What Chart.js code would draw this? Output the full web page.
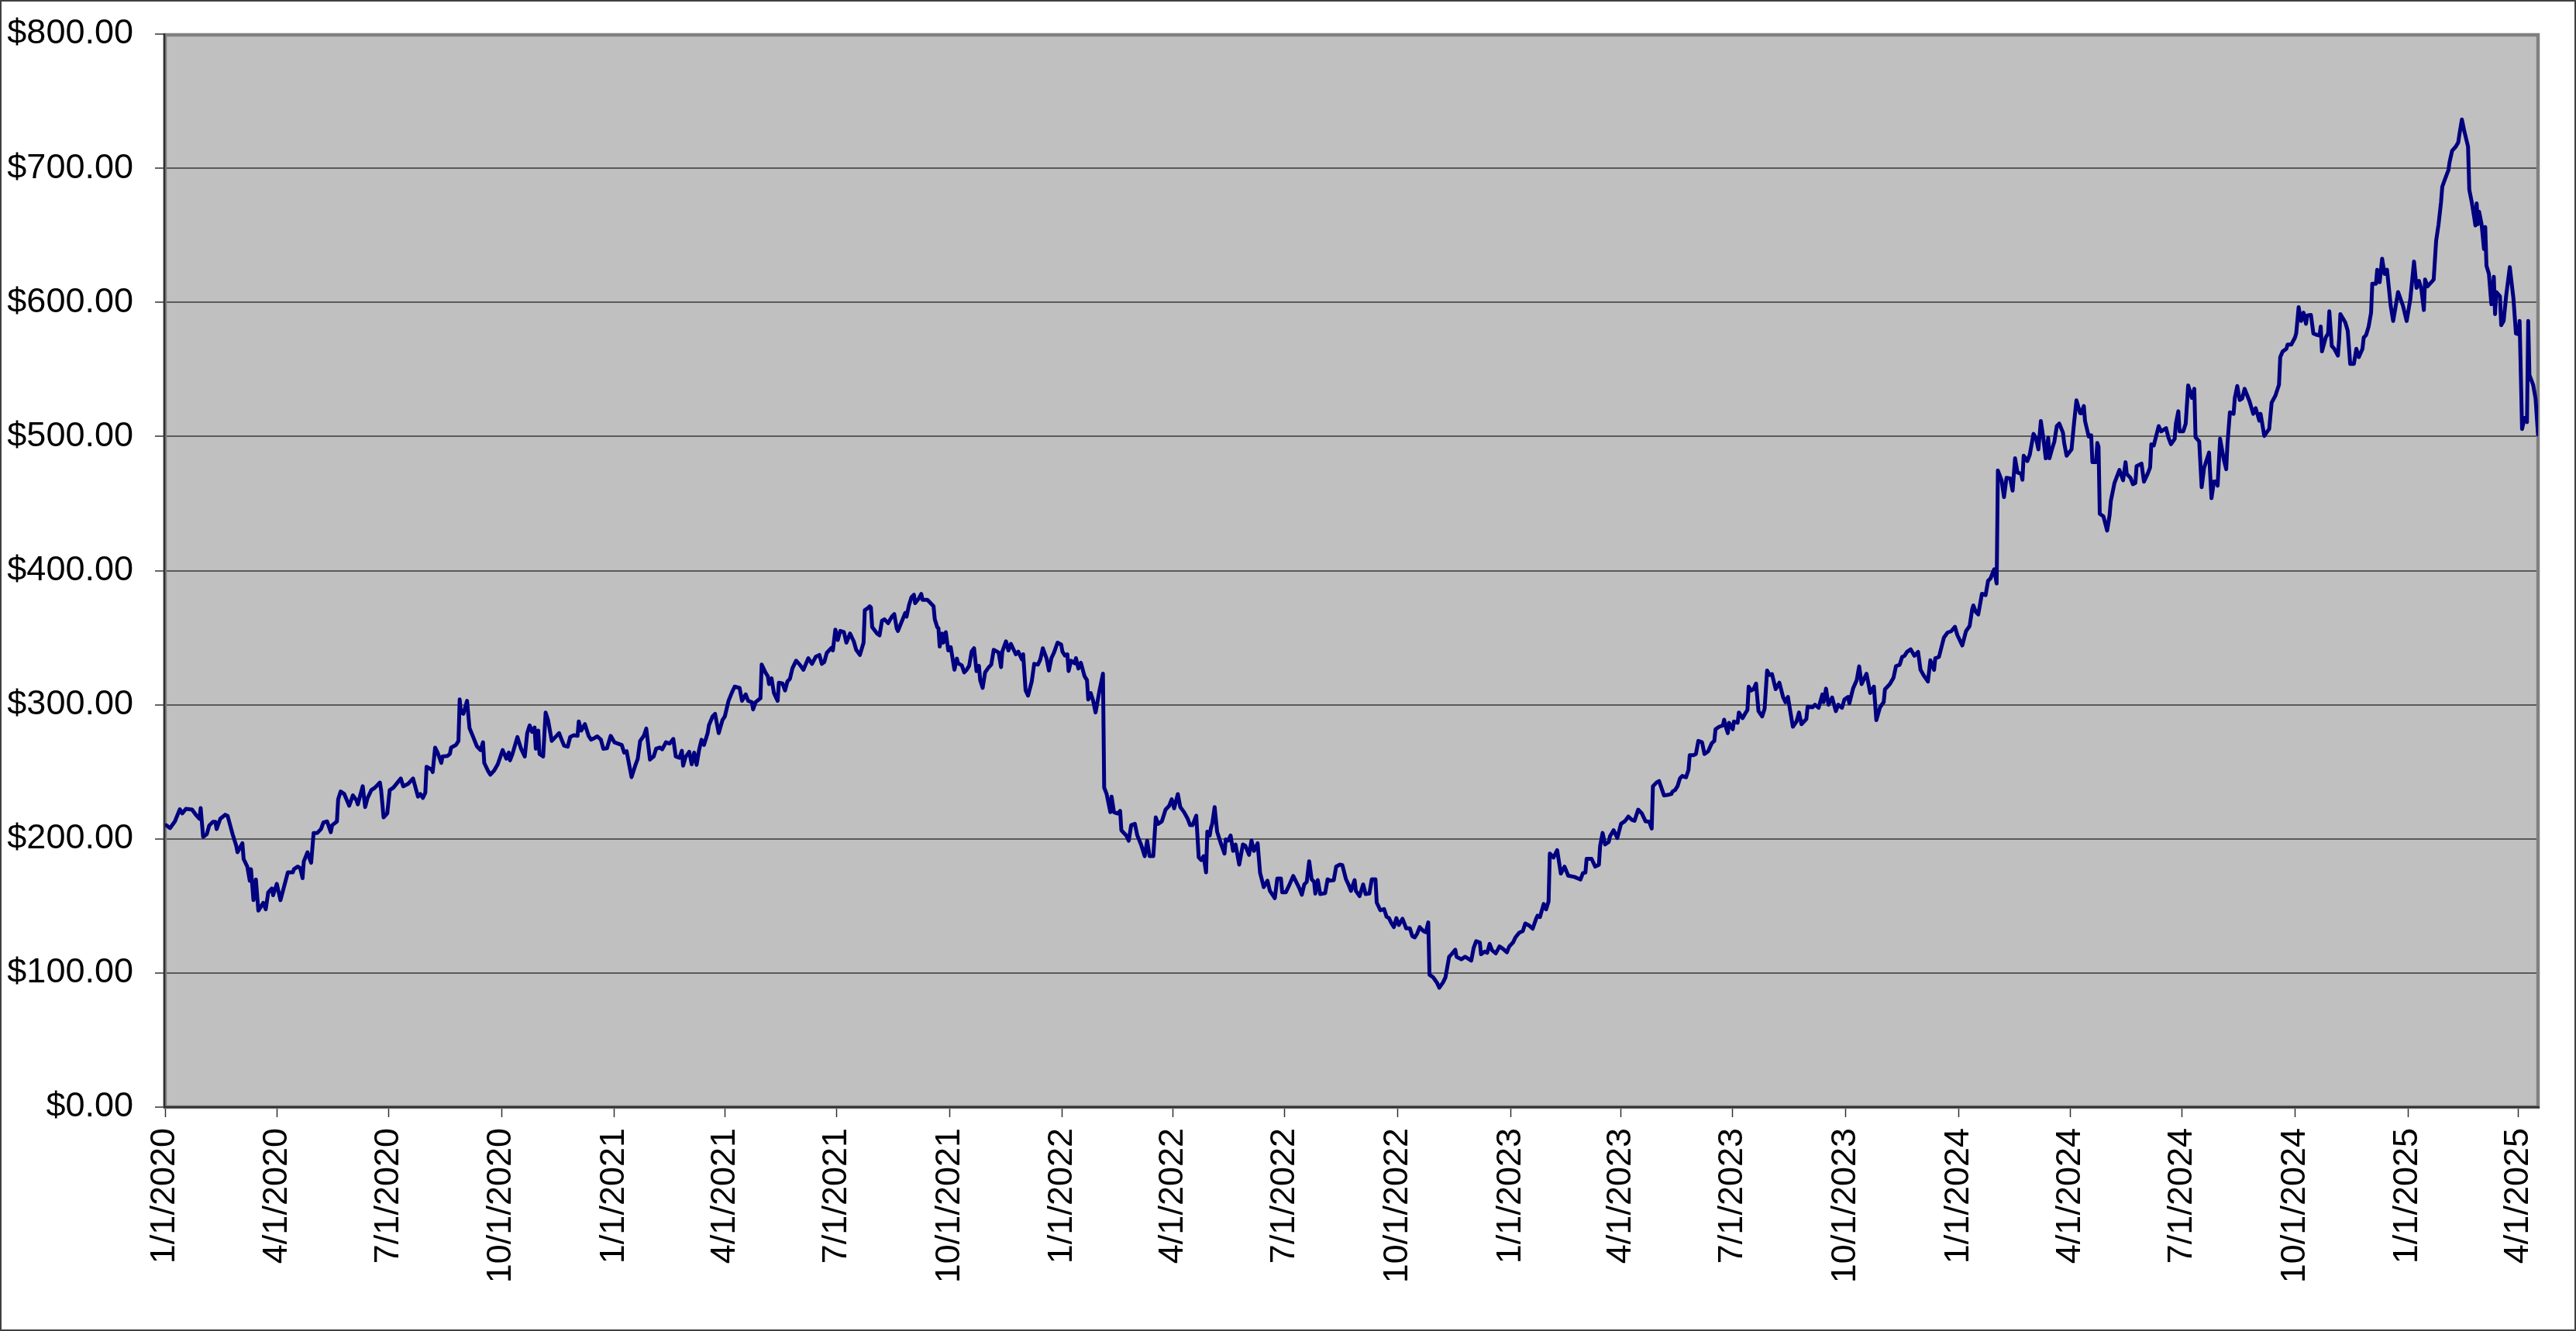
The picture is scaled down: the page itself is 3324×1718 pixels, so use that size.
<!DOCTYPE html>
<html>
<head>
<meta charset="utf-8">
<script src="https://cdn.jsdelivr.net/npm/chart.js@4/dist/chart.umd.min.js"></script>
<style>
  html, body { margin: 0; padding: 0; background: #ffffff; }
  canvas { display: block; }
</style>
</head>
<body>
<canvas id="chart" width="3324" height="1718"></canvas>
<script>
// ---------------- DATA ----------------
// X-axis tick labels (quarter starts)
const quarterLabels = ['1/1/2020','4/1/2020','7/1/2020','10/1/2020','1/1/2021','4/1/2021','7/1/2021','10/1/2021',
  '1/1/2022','4/1/2022','7/1/2022','10/1/2022','1/1/2023','4/1/2023','7/1/2023','10/1/2023',
  '1/1/2024','4/1/2024','7/1/2024','10/1/2024','1/1/2025','4/1/2025'];

// Y-axis range
const yMin = 0, yMax = 800, yStep = 100;

// Closing prices, per year: day-of-year (0 = Jan 1) and price in dollars
const days2020 = [1,4,8,12,14,17,22,25,28,29,31,34,36,39,41,42,45,49,51,55,58,59,63,64,67,69,70,72,74,76,80,82,84,87,88,91,94,100,104,105,108,110,112,113,116,117,119,121,124,127,129,132,135,136,140,141,143,146,150,153,156,157,161,163,165,168,171,175,176,178,181,183,186,192,194,198,202,206,208,210,212,213,217,218,220,222,225,226,230,232,233,237,239,240,241,243,246,248,251,254,257,259,260,263,265,268,271,275,278,280,281,283,287,290,293,295,297,299,301,302,304,305,308,310,312,315,318,321,323,325,328,330,333,336,337,339,342,345,347,350,352,355,357,360,363];
const close2020 = [210.2,208,213,222,219,222.4,221.8,218,215,223,201.5,203.5,210,212.7,212.7,207.3,215,218,217,203.5,194.8,190,196.7,185,179.3,168.7,177.4,154.3,169.7,146.5,152.3,147.5,160,163,158,166.4,154.3,175,175,177.4,179.3,178.4,170.7,183.2,190,187,182.2,204.4,204.4,207.3,212.2,213,205,210,213,229.5,235.3,233.4,224.7,232.4,228.6,225.7,239.2,223.7,230.5,236.3,238.2,242,236.3,216,219,236.3,238.2,245,239.2,241,245,231.5,233.4,230.5,234.4,253.7,251.7,249.8,268,264.3,256.6,261.4,261.8,263.3,268,270,273,303.9,294.2,293.2,302.9,282.6,275.9,269,266.2,272,256.6,250.8,247.9,250.8,255.6,266.2,259.8,264.3,258.5,263.3,275.9,267.2,261.4,278.8,284.6,279.7,283,267.2,280.7,263.3,261.4,294.2,288.4,273,275.9,278.8,274,269.5,268.7,275.9,277.2,276.8,287.5,280.7,285.5,276.8,274,275.3,276.4,274,267.2,267.6,276.8];

const days2021 = [0,3,6,8,10,12,14,17,19,21,24,26,29,32,34,37,39,42,45,48,50,53,55,56,58,61,63,65,67,69,71,73,76,77,80,82,85,88,90,93,96,98,102,104,107,109,112,113,115,119,120,123,125,126,128,130,133,134,137,139,141,143,145,148,151,154,158,161,164,167,169,171,173,177,178,180,182,184,187,189,192,195,197,200,203,204,207,208,209,210,214,216,218,220,223,226,228,230,231,234,237,238,240,242,244,245,248,250,251,255,257,260,261,263,264,265,267,268,270,272,274,277,279,280,283,285,287,289,291,293,295,297,298,300,302,305,307,309,313,315,316,319,321,323,325,327,329,332,333,335,337,340,342,345,347,349,352,354,356,358,361,364];
const close2021 = [272,271,270,264.3,265.3,255.6,246,254.6,259.5,273,276.8,282.2,259.1,261.4,267.2,268.1,266.8,272,271,274.5,261.4,260.4,265.6,254.6,261,264.9,255.6,264.3,255.2,266.2,273.9,270,278.8,284.6,291.3,293.2,278.8,288.4,291.3,302.9,309.7,313.5,312.5,302.9,307.7,302.9,301.9,296.5,301.9,304.8,329.9,324.1,321.2,315.4,319.7,308.7,302.9,316.4,315.8,310.6,317.4,319.3,327,332.8,329.9,326.1,334.7,330.5,335.7,337.1,330.5,331.9,338.6,342.5,340.5,356,348.3,355,354.1,346.3,353.1,347.3,340.9,337.1,346.3,370.5,372.4,373.4,372.4,357.9,353.1,351.7,362.7,363.7,360.8,365.6,367.6,356.9,355,361.8,368.5,365.6,374.3,380.1,382,375.7,379.2,382.6,378.2,378.2,376.3,373.4,363.7,357.9,357,343.4,353.1,346.3,354.1,340.5,342.9,326.1,334.4,330.9,329.3,324.1,326.1,329,339.6,342.1,325.1,329,318.3,312.5,324.1,328,329.9,340.9,339,328,339.6,347.3,340.5,345.4,341.5,337.6,339.6,333.8,337.6,310.6,306.8,317.4,330.5,329.9,333.8,342.1,334.7,325.5,334.7,338.6,346.3,344.8];

const days2022 = [0,2,4,5,7,10,11,13,15,18,20,21,23,25,27,30,33,34,36,39,40,42,45,47,48,52,54,56,59,61,64,67,69,71,74,76,78,81,84,87,89,91,94,96,99,102,104,106,109,111,113,115,117,118,120,121,122,124,126,129,132,133,135,137,139,141,144,147,149,152,154,156,159,161,164,167,169,173,175,178,179,182,185,188,191,193,195,197,199,201,203,205,206,208,210,214,216,218,221,223,226,228,231,233,235,238,239,242,245,247,250,252,255,256,259,262,264,266,268,270,272,274,277,280,283,285,287,289,291,294,296,298,299,302,305,307,310,312,315,317,320,321,325,328,333,335,337,340,341,344,346,348,350,353,356,359,362,364];
const close2022 = [339.6,336.7,337.6,325.1,332.8,330.9,334.7,327,331.3,321.2,318.3,303.9,308.7,302.9,294.2,309.7,323.2,238.2,233.4,219.9,231.5,219.9,218.9,220.8,206.4,202.5,198.6,210.2,211.2,202.5,195.8,187.1,198.6,187.1,187.1,216,211.2,213.1,221.8,224.7,229.5,222.8,233.4,223.7,220,215,210.2,210.2,217.3,186.2,184.2,187.1,175,205.4,202.5,208.3,211.2,223.7,205.4,196.7,189,199.6,198.7,202.5,191,195.8,180.8,195.8,194.8,188.1,198.7,191,196.7,174.6,164,168.8,161.2,155.8,170.4,170.4,160.2,160.2,166,172.3,166.9,163.1,158.3,166,167.9,183.3,169.8,167.9,159.2,169.2,158.8,159.6,169.8,168.8,169.2,179.4,180.8,180.4,169.8,166,161.2,169.2,161.2,157.3,166,158.8,159.2,169.8,169.8,152.5,146.7,147.7,141.9,140.9,137.1,134.2,140.9,135.8,140.4,133.3,133.3,127.5,126.5,129.4,134.2,131.3,130.4,137.7,98.7,96.7,92.9,89,92.9,96.7,112.1,114,117.3,112.1,110.2,112.1,109.2,118.8,123.7,122.7,114,116,115,121.7,116.9,114.6,119.8,117.9,115.4,119.8];

const days2023 = [2,4,7,10,12,15,18,21,22,24,27,29,31,32,35,38,41,44,47,52,57,59,61,62,66,69,72,73,75,77,80,81,84,87,90,93,94,96,99,101,104,107,110,113,115,116,119,121,125,128,131,132,134,136,138,140,143,145,146,149,151,153,156,158,161,164,166,167,170,173,174,176,177,178,181,182,185,186,189,191,193,194,196,198,200,202,205,207,209,211,213,216,219,222,224,226,227,230,233,235,237,241,242,246,248,251,254,255,257,259,262,265,267,270,272,275,276,279,282,284,286,290,293,296,298,301,304,305,309,312,314,317,319,321,323,326,329,332,334,337,340,342,345,346,349,353,356,359,362,364];
const close2023 = [122.7,126.5,130,131.3,136.9,135.5,133,140.7,142.7,141.7,151.4,147.5,153.3,189,186.1,191.5,174.1,179.3,172.6,171.6,169.7,174.5,174.9,185.1,185.1,179.3,180.7,194.8,204.4,195.8,197.7,201.9,206.4,200.6,211.2,213.1,214.1,216.6,214.1,213.5,221.8,218.9,213.1,212.7,207.7,239.2,242.1,243.1,232.4,232.8,233.4,235.3,236.3,239.2,245,246.9,245.9,251.4,262.4,262.4,263.3,273,272,263.3,265.3,271.4,273,281.7,283.6,284.6,288.8,281.7,278.8,286.5,281.7,287.5,286.5,294.2,290,293.2,296.1,313.5,310.6,311.6,315.8,295.2,291.3,297.1,325.5,322.2,322.8,311.6,316.4,305.8,301.9,305.8,300,283.6,287.5,294.2,285.5,289.4,298.5,298.1,300,297.7,307.7,301.9,312,300,305.4,295.2,300,297.7,303.9,305.8,301,312,318.3,328.6,315.4,323.1,308.7,313.5,288.5,298.1,301.9,311.5,315.4,320.2,328.8,329.8,335.6,336.5,339.4,341.3,336.5,339.4,326,321.2,317.3,333.1,326,334.6,335.6,350,353.8,354.8,358.1,351.9];

const days2024 = [3,6,9,11,12,14,16,19,22,24,26,29,31,32,35,37,39,42,44,46,48,51,52,53,56,58,61,63,65,67,69,71,73,74,76,78,80,82,85,86,88,92,94,96,99,100,102,103,106,108,109,112,113,114,115,118,121,123,124,127,131,134,136,137,140,142,144,145,149,151,154,156,157,159,163,165,169,171,173,176,177,179,180,183,185,187,190,192,193,196,198,200,204,206,208,210,211,213,216,218,219,221,224,225,227,229,231,233,237,240,242,245,246,249,253,255,258,261,262,264,267,268,271,274,275,277,279,281,283,284,287,289,292,294,295,296,299,301,302,304,306,309,310,311,313,315,317,319,322,324,326,329,330,332,334,336,337,340,341,343,345,347,349,352,354,358,362,365];
const close2024 = [344.2,354.8,358.7,370.8,374,369.2,367.3,382.7,381.7,392.3,394.2,401,390.4,474.6,467.3,454.8,469.2,468.8,459.6,483.7,473.1,472.1,467.7,485.6,481.7,486.5,501.9,499,490.4,511.5,499,483.7,499,483.7,490.4,496.2,507.7,509.6,502.9,495.2,485.6,490.4,509.6,526.9,517.3,517.3,522.7,511.5,500,500.9,480.8,480.8,495.2,492.3,442.3,440.4,429.8,441.3,451.9,465.4,475,467.3,480.8,472.1,469.2,464.4,465.4,477.9,479.8,466.3,472.1,476.9,494.2,493.3,507.7,503.8,506.2,499,494.2,498.1,509.6,518.8,503.8,503.8,509.6,538,528.8,535.5,499.4,496.3,462.2,476.7,488,454,466.4,466.4,463.3,498.3,482.9,475.6,494.2,518,516.9,528.7,537.6,527.2,528.3,535.5,526.2,516.9,521.1,511.8,516.9,500.4,505.6,525.2,530.3,538.6,559.2,563.4,565.4,568.5,568.5,573.7,576.8,596.4,586.1,592.3,584,590.2,590.6,576.8,575.7,575.3,581.9,563.4,573.7,576.8,593.3,567.5,565.4,560.3,572.7,591.2,588.1,585,578.8,554.1,554.1,565.4,559.2,565.4,573.7,575.7,581.9,592.3,613.9,613.9,624.3,615,632.5,621.2,624.3,597.4,586.1,607.7,597.4,586.1];

const days2025 = [2,5,7,9,11,13,14,16,18,21,23,25,27,28,30,33,34,36,39,41,42,44,46,49,50,52,54,55,56,57,58,60,62,63,64,66,68,70,71,72,75,76,78,80,83,86,88,90,91,93,95,97,98,99,102,104,106];
const close2025 = [602.6,630.4,610.8,616,609.8,594.3,617,611.9,613.9,617,645.9,658.3,674.8,686.2,691.3,698.6,704.7,713,716.1,719.2,725.4,736.3,727.4,716.1,684.1,674.8,663.5,657.3,673.8,658.3,667.6,658.3,639.7,656.2,627.3,621.2,598.5,619.1,591.2,607.7,604.6,583,586.1,604.6,626.3,602.6,576.8,576.2,586.1,505.6,513.8,510.7,586.1,545.8,538.6,528.3,501.4];

// ---------------- BUILD ----------------
const DAY = 86400000;
const EPOCH = Date.UTC(2020, 0, 1);
const yearOffset = y => Math.round((Date.UTC(y, 0, 1) - EPOCH) / DAY);
const labelToDay = s => { const [m, d, y] = s.split('/').map(Number); return Math.round((Date.UTC(y, m - 1, d) - EPOCH) / DAY); };

const yearly = [
  [2020, days2020, close2020], [2021, days2021, close2021], [2022, days2022, close2022],
  [2023, days2023, close2023], [2024, days2024, close2024], [2025, days2025, close2025]
];
const points = [];
yearly.forEach(([yr, ds, cs]) => {
  const off = yearOffset(yr);
  const n = Math.min(ds.length, cs.length);
  for (let i = 0; i < n; i++) points.push({ x: off + ds[i], y: cs[i] });
});
const lastDay = points[points.length - 1].x;
const tickDays = quarterLabels.map(labelToDay);
const labelByDay = new Map(tickDays.map((d, i) => [d, quarterLabels[i]]));

const FONT = "'Liberation Sans', Arial, Helvetica, sans-serif";

const framePlugin = {
  id: 'frame',
  beforeDraw(chart) {
    const { ctx, chartArea: a, width, height } = chart;
    ctx.save();
    ctx.fillStyle = '#ffffff';
    ctx.fillRect(0, 0, width, height);
    ctx.fillStyle = '#C0C0C0';
    ctx.fillRect(a.left, a.top, a.right - a.left, a.bottom - a.top);
    ctx.strokeStyle = '#404040';
    ctx.lineWidth = 2;
    ctx.strokeRect(1, 1, width - 2, height - 2);
    ctx.restore();
  },
  beforeDatasetsDraw(chart) {
    const { ctx, chartArea: a } = chart;
    ctx.save();
    ctx.strokeStyle = '#808080';
    ctx.lineWidth = 4.5;
    ctx.strokeRect(a.left, a.top + 1, a.right - a.left, a.bottom - a.top - 1);
    ctx.strokeStyle = '#303030';
    ctx.lineWidth = 2.5;
    ctx.beginPath();
    ctx.moveTo(a.left - 1, a.top - 1);
    ctx.lineTo(a.left - 1, a.bottom);
    ctx.lineTo(a.right + 2, a.bottom);
    ctx.stroke();
    ctx.restore();
  }
};

new Chart(document.getElementById('chart'), {
  type: 'line',
  data: {
    datasets: [{
      label: 'Close',
      data: points,
      borderColor: '#000080',
      borderWidth: 5,
      pointRadius: 0,
      tension: 0,
      fill: false,
      borderJoinStyle: 'round',
      borderCapStyle: 'round'
    }]
  },
  options: {
    responsive: false,
    animation: false,
    devicePixelRatio: 1,
    parsing: false,
    layout: { padding: { top: 44, right: 49, bottom: 0, left: 0 } },
    plugins: { legend: { display: false }, tooltip: { enabled: false } },
    scales: {
      x: {
        type: 'linear',
        min: 0,
        max: lastDay,
        afterBuildTicks: s => { s.ticks = tickDays.map(v => ({ value: v })); },
        afterFit: s => { s.height = 289; s.paddingLeft = 0; s.paddingRight = 0; },
        border: { display: false },
        grid: { drawOnChartArea: false, drawTicks: true, tickLength: 13, tickColor: '#303030', tickWidth: 1.5 },
        ticks: {
          autoSkip: false, minRotation: 90, maxRotation: 90, padding: 14,
          color: '#000', font: { family: FONT, size: 45 },
          callback: v => labelByDay.get(v) ?? ''
        }
      },
      y: {
        min: yMin,
        max: yMax,
        afterFit: s => { s.width = 213; s.paddingTop = 0; s.paddingBottom = 0; },
        border: { display: false },
        grid: { color: '#5a5a5a', lineWidth: 2, tickLength: 13, tickColor: '#303030', tickWidth: 1.5 },
        ticks: {
          stepSize: yStep, padding: 28, color: '#000', font: { family: FONT, size: 45 },
          callback: v => '$' + Number(v).toFixed(2)
        }
      }
    }
  },
  plugins: [framePlugin]
});
</script>
</body>
</html>
